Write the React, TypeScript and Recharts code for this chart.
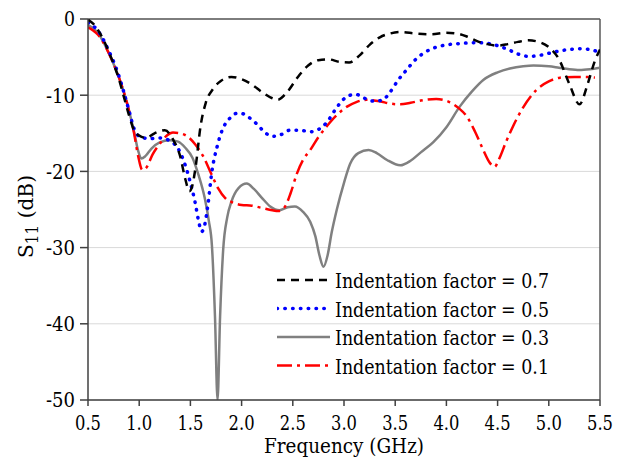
import React from 'react';
import { LineChart, Line, XAxis, YAxis, CartesianGrid, ReferenceLine, Legend } from 'recharts';

// ---- data (frequency in GHz, S11 in dB) ----
const freq07 = [0.5, 0.55, 0.6, 0.65, 0.7, 0.75, 0.8, 0.85, 0.9, 0.95, 1.0, 1.07, 1.15, 1.25, 1.33, 1.4, 1.45, 1.49, 1.52, 1.55, 1.6, 1.65, 1.72, 1.8, 1.9, 2.0, 2.1, 2.2, 2.3, 2.35, 2.45, 2.55, 2.65, 2.75, 2.85, 2.95, 3.05, 3.15, 3.25, 3.35, 3.45, 3.55, 3.7, 3.85, 4.0, 4.1, 4.2, 4.3, 4.4, 4.5, 4.6, 4.7, 4.8, 4.9, 5.0, 5.1, 5.2, 5.3, 5.38, 5.45, 5.5];
const s07 = [-0.1, -0.6, -1.5, -2.7, -4.2, -5.9, -7.8, -10.2, -12.6, -14.6, -15.3, -15.6, -15.0, -14.6, -15.8, -18.0, -21.0, -22.6, -21.8, -19.5, -14.0, -11.0, -9.2, -8.1, -7.6, -7.9, -8.6, -9.6, -10.4, -10.6, -9.5, -7.6, -6.1, -5.4, -5.3, -5.6, -5.7, -4.8, -3.4, -2.4, -1.9, -1.7, -1.9, -2.0, -1.8, -1.9, -2.3, -2.9, -3.3, -3.5, -3.3, -3.0, -2.8, -3.0, -3.7, -5.3, -8.5, -11.2, -8.5, -5.5, -4.0];

const freq05 = [0.5, 0.55, 0.6, 0.65, 0.7, 0.75, 0.8, 0.85, 0.9, 0.95, 1.0, 1.1, 1.2, 1.3, 1.38, 1.45, 1.5, 1.545, 1.58, 1.61, 1.64, 1.67, 1.71, 1.76, 1.81, 1.88, 1.95, 2.0, 2.07, 2.15, 2.22, 2.3, 2.38, 2.47, 2.57, 2.67, 2.75, 2.83, 2.92, 2.99, 3.06, 3.12, 3.2, 3.3, 3.38, 3.45, 3.53, 3.61, 3.7, 3.8, 3.9, 4.0, 4.15, 4.3, 4.4, 4.5, 4.6, 4.7, 4.8, 4.9, 5.0, 5.1, 5.2, 5.3, 5.4, 5.5];
const s05 = [-0.5, -0.9, -1.6, -2.7, -4.1, -5.6, -7.4, -9.6, -12.0, -14.4, -15.4, -15.7, -15.6, -16.0, -17.0, -19.2, -21.5, -24.0, -26.5, -27.9, -27.0, -24.5, -20.0, -16.8, -14.6, -13.1, -12.4, -12.4, -12.9, -13.8, -14.8, -15.4, -15.2, -14.6, -14.6, -14.8, -14.5, -13.6, -11.8, -10.6, -10.0, -9.9, -10.4, -10.8, -10.6, -9.6, -8.0, -6.7, -5.3, -4.3, -3.7, -3.4, -3.2, -3.1, -3.2, -3.5, -4.0, -4.6, -4.9, -4.8, -4.5, -4.2, -4.0, -3.9, -4.0, -4.4];

const freq03 = [0.5, 0.55, 0.6, 0.65, 0.7, 0.75, 0.8, 0.85, 0.9, 0.95, 0.99, 1.02, 1.06, 1.12, 1.2, 1.3, 1.38, 1.45, 1.52, 1.58, 1.64, 1.68, 1.71, 1.74, 1.765, 1.79, 1.82, 1.86, 1.9, 1.97, 2.05, 2.12, 2.2, 2.28, 2.37, 2.45, 2.52, 2.6, 2.67, 2.72, 2.76, 2.8, 2.84, 2.88, 2.93, 3.0, 3.06, 3.14, 3.24, 3.32, 3.42, 3.55, 3.65, 3.75, 3.87, 4.0, 4.13, 4.25, 4.36, 4.5, 4.62, 4.75, 4.85, 5.0, 5.1, 5.2, 5.3, 5.4, 5.5];
const s03 = [-0.8, -1.2, -1.9, -3.0, -4.4, -5.9, -7.6, -9.6, -12.0, -14.8, -17.3, -18.3, -18.0, -17.0, -16.2, -15.9, -16.1, -16.9, -18.2, -20.5, -23.5, -26.5, -29.7, -39.0, -50, -39.0, -30.3, -26.0, -24.0, -22.2, -21.6, -22.3, -23.5, -24.6, -25.1, -24.7, -24.6, -25.3, -26.6, -28.5, -31.0, -32.5, -31.0, -28.0, -25.0, -21.5, -19.0, -17.6, -17.2, -17.6, -18.5, -19.2, -18.6, -17.5, -16.2, -14.2, -11.5, -9.5, -8.0, -7.0, -6.5, -6.2, -6.1, -6.2, -6.4, -6.6, -6.7, -6.6, -6.4];

const freq01 = [0.5, 0.55, 0.6, 0.65, 0.7, 0.75, 0.8, 0.85, 0.9, 0.95, 0.99, 1.03, 1.07, 1.13, 1.2, 1.27, 1.33, 1.4, 1.47, 1.55, 1.62, 1.7, 1.77, 1.84, 1.9, 2.0, 2.1, 2.2, 2.3, 2.36, 2.42, 2.48, 2.54, 2.6, 2.67, 2.75, 2.83, 2.93, 3.03, 3.12, 3.22, 3.35, 3.45, 3.55, 3.65, 3.75, 3.9, 4.03, 4.12, 4.2, 4.28, 4.36, 4.42, 4.47, 4.52, 4.58, 4.65, 4.75, 4.88, 5.0, 5.11, 5.25, 5.35, 5.45];
const s01 = [-1.1, -1.5, -2.1, -3.1, -4.4, -5.9, -7.6, -9.6, -12.0, -15.0, -18.0, -19.8, -19.5, -17.8, -16.4, -15.3, -14.9, -15.0, -15.4, -16.5, -17.9, -20.2, -22.2, -23.5, -24.0, -24.4, -24.5, -24.8, -25.1, -25.2, -24.7, -22.8, -20.3, -18.5, -17.2, -15.5, -14.1, -12.6, -11.5, -10.9, -10.6, -10.8, -11.1, -11.2, -11.0, -10.7, -10.5, -10.9, -11.7, -12.8, -14.8, -17.2, -18.8, -19.4, -18.2, -16.2, -14.1, -11.6, -9.3, -8.2, -7.7, -7.6, -7.6, -7.7];

const xTicks = [0.5, 1.0, 1.5, 2.0, 2.5, 3.0, 3.5, 4.0, 4.5, 5.0, 5.5];
const yTicks = [0, -10, -20, -30, -40, -50];
const seriesNames = ['Indentation factor = 0.7', 'Indentation factor = 0.5', 'Indentation factor = 0.3', 'Indentation factor = 0.1'];

const zip = (fs: number[], ss: number[]) => fs.map((f, i) => ({ f, s: ss[i] }));
const data07 = zip(freq07, s07);
const data05 = zip(freq05, s05);
const data03 = zip(freq03, s03);
const data01 = zip(freq01, s01);

const FONT = "'DejaVu Serif'";

const styles = [
  { stroke: '#000000', width: 2.5, dash: '8 6', cap: 'butt' as const },
  { stroke: '#0000ff', width: 3.5, dash: '0.5 7.3', cap: 'round' as const },
  { stroke: '#808080', width: 2.5, dash: undefined, cap: 'butt' as const },
  { stroke: '#ff0000', width: 2.5, dash: '15 5 3 5', cap: 'butt' as const },
];

const LegendContent = () => (
  <svg width={330} height={120} style={{ display: 'block' }}>
    {seriesNames.map((name, i) => {
      const cy = 12 + i * 28.5;
      const st = styles[i];
      return (
        <g key={name}>
          <line x1={0} x2={53} y1={cy} y2={cy} stroke={st.stroke} strokeWidth={st.width}
            strokeDasharray={st.dash} strokeLinecap={st.cap} />
          <text x={58} y={cy + 8} textLength={214} lengthAdjust="spacingAndGlyphs"
            style={{ fontFamily: FONT, fontSize: 20.5 }} fill="#000">{name}</text>
        </g>
      );
    })}
  </svg>
);

const XTick = (props: any) => {
  const { x, y, payload } = props;
  const label = Number(payload.value).toFixed(1);
  return (
    <text x={x} y={y} dy="0.71em" textAnchor="middle" textLength={26} lengthAdjust="spacingAndGlyphs"
      style={{ fontFamily: FONT, fontSize: 20.5 }} fill="#000">{label}</text>
  );
};

const YTick = (props: any) => {
  const { x, y, payload } = props;
  const label = String(payload.value);
  const w = label.length === 1 ? 11 : 29;
  return (
    <text x={x} y={y} dy="0.36em" textAnchor="end" textLength={w} lengthAdjust="spacingAndGlyphs"
      style={{ fontFamily: FONT, fontSize: 20.5 }} fill="#000">{label}</text>
  );
};

const YLabel = () => (
  <text x={25} y={208.5} transform="rotate(-90, 25, 208.5)" textAnchor="middle"
    textLength={83} lengthAdjust="spacingAndGlyphs"
    style={{ fontFamily: FONT, fontSize: 21 }} fill="#000">
    <tspan>S</tspan>
    <tspan style={{ fontSize: 16 }} dy={5}>11</tspan>
    <tspan dy={-5}> (dB)</tspan>
  </text>
);

const XLabel = () => (
  <text x={336} y={445} textAnchor="middle" textLength={160} lengthAdjust="spacingAndGlyphs"
    style={{ fontFamily: FONT, fontSize: 21 }} fill="#000">
    Frequency (GHz)
  </text>
);

export default function App() {
  return (
    <div style={{ width: 613, height: 451 }}>
      <LineChart width={613} height={451} margin={{ top: 11, right: 21, bottom: 0, left: 0 }}>
        <CartesianGrid vertical={false} stroke="#d9d9d9" strokeWidth={1} />
        <XAxis type="number" dataKey="f" domain={[0.5, 5.5]} ticks={xTicks} allowDataOverflow interval={0}
          height={59} tickSize={6} tickMargin={9} tick={(p: any) => <XTick {...p} />}
          axisLine={{ stroke: '#404040', strokeWidth: 1.5 }} tickLine={{ stroke: '#404040', strokeWidth: 1.5 }}
          label={{ content: () => <XLabel /> }} />
        <YAxis type="number" domain={[-50, 0]} ticks={yTicks} allowDataOverflow width={80} interval={0}
          tickSize={8} tickMargin={5} tick={(p: any) => <YTick {...p} />}
          axisLine={{ stroke: '#404040', strokeWidth: 1.5 }} tickLine={{ stroke: '#404040', strokeWidth: 1.5 }}
          label={{ content: () => <YLabel /> }} />
        <ReferenceLine y={0} stroke="#595959" strokeWidth={1.5} />
        <ReferenceLine x={5.5} stroke="#595959" strokeWidth={1.5} />
        <Line data={data03} dataKey="s" type="monotone" dot={false} isAnimationActive={false}
          stroke={styles[2].stroke} strokeWidth={styles[2].width} name={seriesNames[2]} />
        <Line data={data01} dataKey="s" type="monotone" dot={false} isAnimationActive={false}
          stroke={styles[3].stroke} strokeWidth={styles[3].width} strokeDasharray={styles[3].dash} name={seriesNames[3]} />
        <Line data={data05} dataKey="s" type="monotone" dot={false} isAnimationActive={false}
          stroke={styles[1].stroke} strokeWidth={styles[1].width} strokeDasharray={styles[1].dash}
          strokeLinecap="round" name={seriesNames[1]} />
        <Line data={data07} dataKey="s" type="monotone" dot={false} isAnimationActive={false}
          stroke={styles[0].stroke} strokeWidth={styles[0].width} strokeDasharray={styles[0].dash} name={seriesNames[0]} />
        <Legend layout="vertical" align="center" verticalAlign="middle" content={() => <LegendContent />}
          wrapperStyle={{ left: 269, top: 260, width: 330, height: 120 }} />
      </LineChart>
    </div>
  );
}
